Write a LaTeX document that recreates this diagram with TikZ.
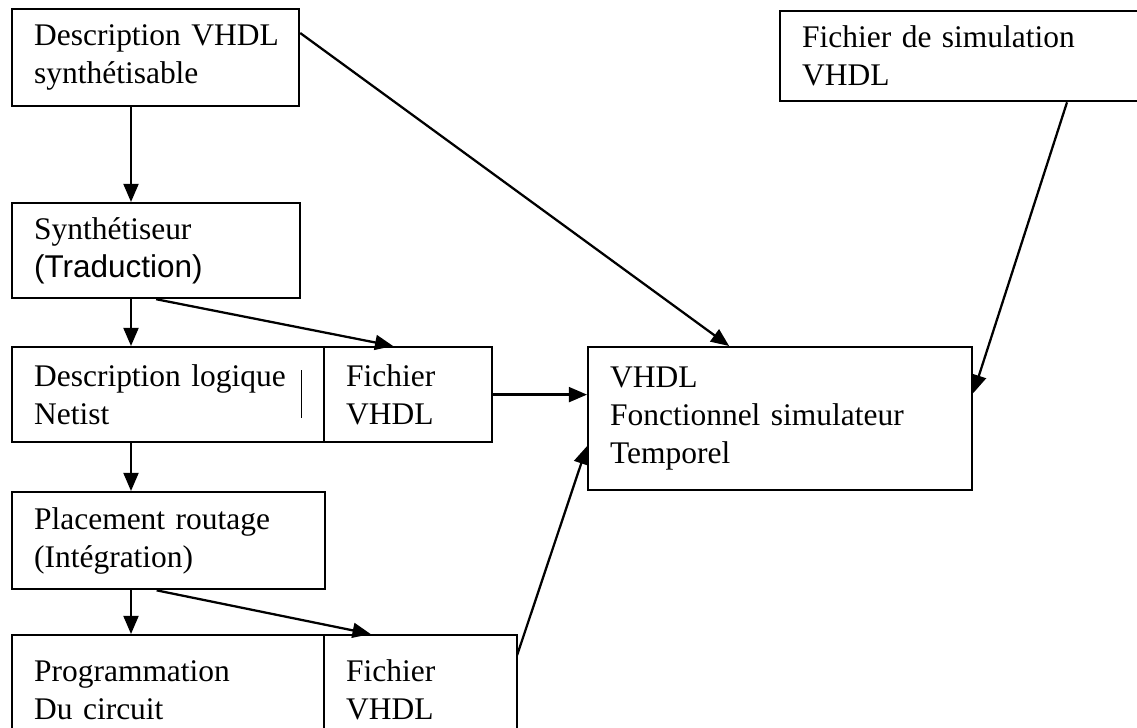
\documentclass[tikz,border=0pt]{standalone}
\usepackage{fontspec}
\setmainfont{Liberation Serif}
\newfontfamily\arialfont{Liberation Sans}
\usetikzlibrary{arrows.meta,calc}
\newcommand\boxfont{\fontsize{11.8}{14.25}\selectfont}
\tikzset{
	box/.style={
			draw, line width=.85pt, anchor=north west, align=left,
			inner xsep=8.25pt, inner ysep=0pt, font=\boxfont
		},
	flow/.style={->, line width=.85pt},
	>={Triangle[length=6.8pt,width=5.6pt]}
}

\begin{document}
\begin{tikzpicture}[x=0.375pt,y=-0.375pt]
        \useasboundingbox (0,0) rectangle (1137,727);
        \clip (0,0) rectangle (1137,727);
        \node[box, text width=91.1pt, minimum height=36.4pt] (vhdl) at (11,8) {Description~VHDL\\synthétisable};
        \node[box, text width=126.4pt, minimum height=33.75pt] (simfile) at (779,10) {Fichier de simulation\\VHDL};
        \node[box, text width=91.5pt, minimum height=35.6pt] (synth) at (11,202) {Synthétiseur\\{\arialfont(Traduction)}};
        \node[box, text width=100.5pt, minimum height=35.6pt] (logic) at (11,346) {Description logique\\Netist};
        \node[box, text width=46.5pt, minimum height=35.6pt] (file1) at (323,346) {Fichier\\VHDL};
        \node[box, text width=127.5pt, minimum height=53.6pt] (sim) at (587,346) {VHDL\\Fonctionnel simulateur\\Temporel};
        \node[box, text width=100.9pt, minimum height=36.4pt] (place) at (11,491) {Placement routage\\(Intégration)};
        \node[box, text width=100.5pt, minimum height=41.25pt] (prog) at (11,634) {Programmation\\Du circuit};
        \node[box, text width=55.9pt, minimum height=41.25pt] (file2) at (323,634) {Fichier\\VHDL};
        \coordinate (spine) at (131,0);
        \draw[flow] (spine |- vhdl.south) -- (spine |- synth.north);
        \draw[flow] (spine |- synth.south) -- (spine |- logic.north);
        \draw[flow] (spine |- logic.south) -- (spine |- place.north);
        \draw[flow] (spine |- place.south) -- (spine |- prog.north);
        \draw[flow] (synth.south) -- ($(file1.north)+(-15,0)$);
        \draw[flow] ($(place.south)+(-12,0)$) -- ($(file2.north)+(-50,0)$);
        \draw[flow] ($(vhdl.north east)+(0,25)$) -- ($(sim.north)+(-51,0)$);
        \draw[flow] ($(simfile.south west)+(288,0)$) -- ($(sim.east)+(0,-25.5)$);
        \draw[flow] (file1.east) -- (file1.east -| sim.west);
        \draw[flow] ($(file2.north)+(96.5,21)$) -- ($(sim.west)+(0,27.5)$);
        \draw[line width=.5pt] ($(logic.north east)+(-24,24)$) -- ++(0,48);
    \end{tikzpicture}
\end{document}
